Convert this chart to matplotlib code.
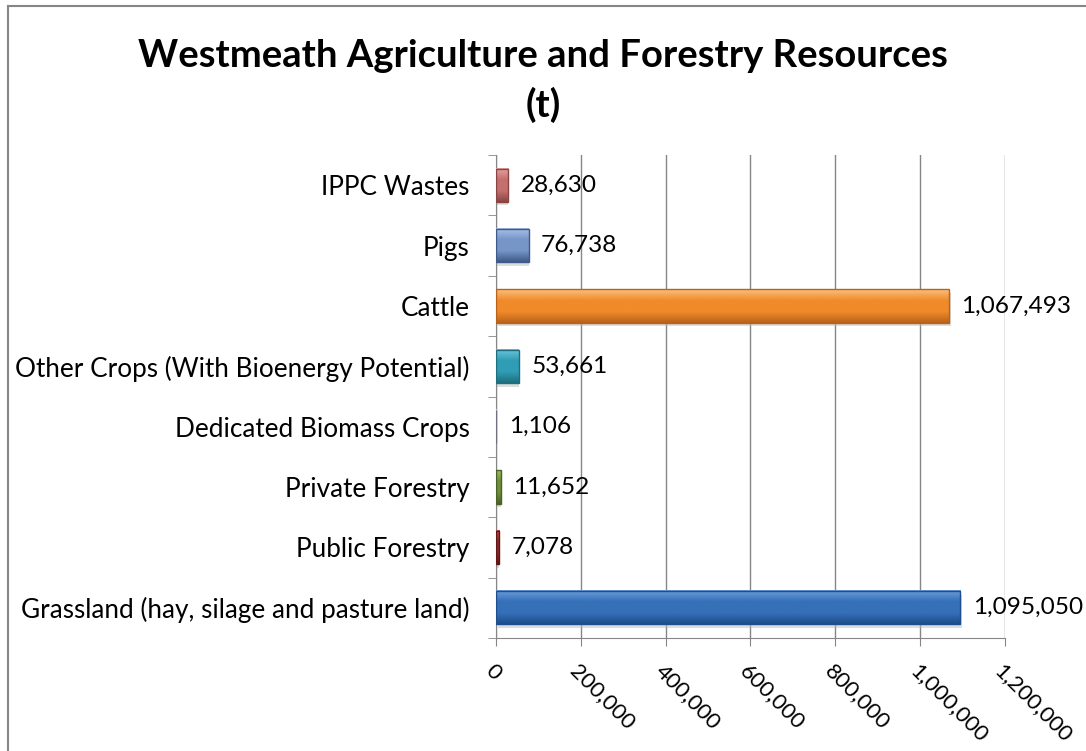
import matplotlib.pyplot as plt
import numpy as np
from matplotlib.colors import LinearSegmentedColormap
from matplotlib.lines import Line2D

plt.rcParams['font.family'] = ['Lato', 'DejaVu Sans']

categories = ['Grassland (hay, silage and pasture land)', 'Public Forestry',
              'Private Forestry', 'Dedicated Biomass Crops',
              'Other Crops (With Bioenergy Potential)', 'Cattle', 'Pigs',
              'IPPC Wastes']
values = [1095050, 7078, 11652, 1106, 53661, 1067493, 76738, 28630]
# light top, middle, dark bottom for each bar
shades = [('#6C9DDA', '#3570B8', '#1E4E8C'),
          ('#C05050', '#8E2A2A', '#5E1616'),
          ('#9CBC62', '#6F8E3C', '#4A6226'),
          ('#C4C4D2', '#9A9AB0', '#707080'),
          ('#6CC6DA', '#2F9DB5', '#1E6E80'),
          ('#FBC07C', '#F08A2A', '#B8621A'),
          ('#A9C0E4', '#7696C8', '#3E5A88'),
          ('#E3A3A1', '#C4706E', '#8A4543')]
xticks = [0, 200000, 400000, 600000, 800000, 1000000, 1200000]

fig = plt.figure(figsize=(10.86, 7.51), dpi=100)
ax = fig.add_axes([0.4567, 0.1505, 0.4687, 0.643])

h = 0.55
grad = np.linspace(0, 1, 64).reshape(-1, 1)
for i, (v, sh) in enumerate(zip(values, shades)):
    # soft shadow under the bar
    ax.barh(i - 0.06, v, height=h, left=v * 0.004, color='#BDBDBD', alpha=0.5,
            linewidth=0, zorder=2)
    cmap = LinearSegmentedColormap.from_list('b', [sh[0], sh[1], sh[1], sh[2]])
    ax.imshow(grad, extent=[0, v, i - h / 2, i + h / 2], origin='lower',
              cmap=cmap.reversed(), aspect='auto', zorder=3, interpolation='bilinear')
    ax.barh(i, v, height=h, fill=False, edgecolor=sh[2], linewidth=1.0, zorder=4)
    ax.annotate(f'{v:,}', (v, i), xytext=(9, 0), textcoords='offset points',
                va='center', ha='left', fontsize=17.6, zorder=5)

ax.set_aspect('auto')
ax.set_xlim(0, 1200000)
ax.set_ylim(-0.5, len(categories) - 0.5)
ax.set_xticks(xticks)
ax.set_xticklabels([f'{t:,}' for t in xticks], rotation=-45, ha='left',
                   va='top', rotation_mode='anchor', fontsize=16)
ax.set_yticks(range(len(categories)))
ax.set_yticklabels(categories, fontsize=18.8)
ax.tick_params(axis='y', length=0, pad=19)
ax.tick_params(axis='x', length=6, color='#868686', pad=10)
# category boundary ticks on the y axis
ax.set_yticks([i - 0.5 for i in range(len(categories) + 1)], minor=True)
ax.tick_params(axis='y', which='minor', length=6, color='#868686')

ax.grid(axis='x', color='#868686', linewidth=1, zorder=0)
for s in ['top', 'right']:
    ax.spines[s].set_visible(False)
for s in ['left', 'bottom']:
    ax.spines[s].set_color('#868686')

fig.suptitle('Westmeath Agriculture and Forestry Resources\n(t)', fontsize=27.5,
             fontweight='bold', y=0.948, linespacing=1.45)

# chart border (top and left edges visible)
fig.add_artist(Line2D([0.0075, 0.0075], [0, 0.992], transform=fig.transFigure,
                      color='#868686', linewidth=1.5))
fig.add_artist(Line2D([0.0075, 1], [0.992, 0.992], transform=fig.transFigure,
                      color='#868686', linewidth=1.5))

fig.savefig('out.png', dpi=100)
